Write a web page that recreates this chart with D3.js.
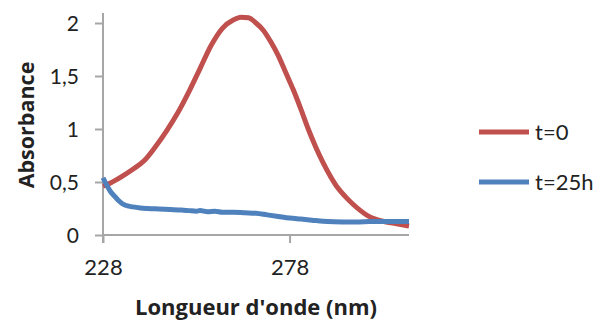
<!DOCTYPE html>
<html><head><meta charset="utf-8">
<script src="https://cdn.jsdelivr.net/npm/d3@7"></script>
<style>
html,body{margin:0;padding:0;background:#fff;}
svg{display:block;}
text{font-family:Lato,"Open Sans",sans-serif;fill:#222;}
.title{font-family:"Open Sans",Lato,sans-serif;font-weight:bold;}
</style></head>
<body><svg id="c" width="598" height="322"></svg>
<script>
const xTicks = [228, 278];
const yTicks = [0, 0.5, 1, 1.5, 2];
const yTickLabels = ["0", "0,5", "1", "1,5", "2"];
const seriesNames = ["t=0", "t=25h"];
const redNm  = [228,230,233,236,239,242,245,248,251,254,257,260,263,265,267,269,271,273,275,277,279,281,283,285,287,289,291,293,295,297,299,301,303,306,310];
const redVal = [0.46,0.49,0.55,0.62,0.70,0.83,0.98,1.15,1.35,1.57,1.79,1.95,2.03,2.055,2.05,2.0,1.93,1.82,1.69,1.53,1.37,1.19,1.00,0.83,0.68,0.55,0.44,0.36,0.29,0.23,0.18,0.15,0.13,0.11,0.085];
const blueNm  = [228,229,230,231,232,233,234,236,238,240,243,246,249,251,253,254,256,258,260,263,266,269,272,275,278,281,284,287,290,294,298,302,306,310];
const blueVal = [0.54,0.47,0.41,0.37,0.33,0.30,0.28,0.265,0.255,0.25,0.245,0.24,0.235,0.23,0.225,0.23,0.22,0.225,0.215,0.215,0.21,0.205,0.19,0.175,0.16,0.15,0.14,0.13,0.125,0.122,0.125,0.128,0.128,0.128];
const colors = ["#C0504D", "#4F81BD"];

const svg = d3.select("#c");
const x = d3.scaleLinear().domain([228, 310]).range([103, 409]);
const y = d3.scaleLinear().domain([0, 2]).range([235, 23]);
const axisColor = "#A6A6A6";

// Y axis
const yAxis = svg.append("g").attr("transform", "translate(103,0)")
  .call(d3.axisLeft(y).tickValues(yTicks).tickSize(8).tickPadding(16).tickFormat((d,i)=>yTickLabels[i]));
yAxis.select(".domain").remove();
yAxis.selectAll(".tick line").attr("stroke", axisColor).attr("stroke-width", 2);
yAxis.selectAll(".tick text").style("font-size", "21px").attr("dy", "0.36em");
svg.append("line").attr("x1",103).attr("x2",103).attr("y1",13).attr("y2",243)
  .attr("stroke",axisColor).attr("stroke-width",2);

// X axis
const xAxis = svg.append("g").attr("transform", "translate(0,235)")
  .call(d3.axisBottom(x).tickValues(xTicks).tickSize(8).tickPadding(16).tickFormat(d3.format("d")));
xAxis.select(".domain").remove();
xAxis.selectAll(".tick line").attr("stroke", axisColor).attr("stroke-width", 2);
xAxis.selectAll(".tick text").style("font-size", "22px");
svg.append("line").attr("x1",103).attr("x2",409).attr("y1",235).attr("y2",235)
  .attr("stroke",axisColor).attr("stroke-width",2);

// Lines
const line = d3.line().x(d=>x(d[0])).y(d=>y(d[1])).curve(d3.curveMonotoneX);
const redData = redNm.map((n,i)=>[n, redVal[i]]);
const blueData = blueNm.map((n,i)=>[n, blueVal[i]]);
[redData, blueData].forEach((dd,i)=>{
  svg.append("path").datum(dd).attr("d", line).attr("fill","none")
    .attr("stroke", colors[i]).attr("stroke-width", 5).attr("stroke-linejoin","round");
});

// Axis titles
svg.append("text").attr("class","title").attr("x", 256).attr("y", 315).attr("text-anchor","middle")
  .style("font-size","22px").text("Longueur d'onde (nm)");
svg.append("text").attr("class","title").attr("transform","translate(34,125) rotate(-90)").attr("text-anchor","middle")
  .style("font-size","21.5px").text("Absorbance");

// Legend
const legY = [132, 182];
seriesNames.forEach((name,i)=>{
  svg.append("line").attr("x1",479).attr("x2",529).attr("y1",legY[i]).attr("y2",legY[i])
    .attr("stroke",colors[i]).attr("stroke-width",5);
  svg.append("text").attr("x",535).attr("y",legY[i]).attr("dy","0.36em")
    .style("font-size","22px").text(name);
});
</script></body></html>
